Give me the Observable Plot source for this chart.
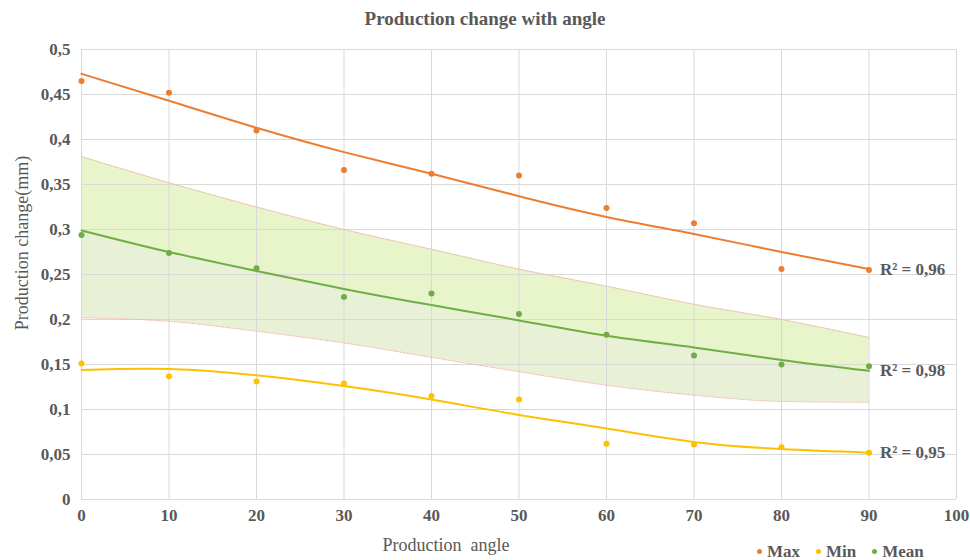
<!DOCTYPE html>
<html>
<head>
<meta charset="utf-8">
<script src="https://cdn.jsdelivr.net/npm/d3@7"></script>
<script src="https://cdn.jsdelivr.net/npm/@observablehq/plot@0.6"></script>
<style>
  body { margin: 0; background: #fff; }
  #wrap { position: relative; width: 970px; height: 560px; overflow: hidden;
          font-family: "Liberation Serif", "Times New Roman", serif; color: #595959; }
  #wrap * { font-family: "Liberation Serif", "Times New Roman", serif !important; }
  #chart { position: absolute; left: 0; top: 0; }
  #chart svg text { font-family: "Liberation Serif", "Times New Roman", serif !important; }
  #title { position: absolute; top: 8px; left: 0; width: 970px; text-align: center;
           font-size: 19px; font-weight: bold; }
  #ylabel { position: absolute; left: 22px; top: 243px; transform: translate(-50%, -50%) rotate(-90deg);
            white-space: pre; font-size: 18px; }
  #xlabel { position: absolute; left: 446px; top: 545px; transform: translate(-50%, -50%);
            white-space: pre; font-size: 18px; }
  #legend { position: absolute; left: 757px; top: 542px; font-size: 17px; font-weight: bold; white-space: nowrap; }
  #legend span.item { margin-right: 16px; }
  #legend span.dot { display: inline-block; width: 5px; height: 5px; border-radius: 50%; margin-right: 5px; vertical-align: middle; position: relative; top: -2px; }
</style>
</head>
<body>
<div id="wrap">
  <div id="chart"></div>
  <div id="title">Production change with angle</div>
  <div id="ylabel">Production change(mm)</div>
  <div id="xlabel">Production  angle</div>
  <div id="legend"></div>
</div>
<script>
// ---- data ----
const angles    = [0, 10, 20, 30, 40, 50, 60, 70, 80, 90];
const maxVals   = [0.465, 0.452, 0.410, 0.366, 0.362, 0.360, 0.324, 0.307, 0.256, 0.255];
const minVals   = [0.151, 0.137, 0.131, 0.129, 0.115, 0.111, 0.062, 0.061, 0.058, 0.052];
const meanVals  = [0.294, 0.274, 0.257, 0.225, 0.229, 0.206, 0.183, 0.160, 0.150, 0.148];
// trendlines as drawn in the reference
const maxTrend  = [0.473, 0.443, 0.413, 0.386, 0.362, 0.337, 0.314, 0.295, 0.275, 0.256];
const minTrend  = [0.144, 0.145, 0.138, 0.126, 0.111, 0.094, 0.079, 0.064, 0.056, 0.052];
const meanTrend = [0.299, 0.275, 0.254, 0.234, 0.216, 0.199, 0.182, 0.169, 0.155, 0.143];
// shaded band around the mean
const bandUpper = [0.381, 0.352, 0.325, 0.300, 0.278, 0.256, 0.237, 0.217, 0.200, 0.180];
const bandLower = [0.202, 0.198, 0.187, 0.174, 0.158, 0.142, 0.127, 0.116, 0.109, 0.108];
// labels
const seriesNames = ["Max", "Min", "Mean"];
const seriesColors = ["#ED7D31", "#FFC000", "#70AD47"];
const r2Labels = ["R² = 0,96", "R² = 0,95", "R² = 0,98"];
const xTicks = [0, 10, 20, 30, 40, 50, 60, 70, 80, 90, 100];
const yTicks = [0, 0.05, 0.1, 0.15, 0.2, 0.25, 0.3, 0.35, 0.4, 0.45, 0.5];
const yTickLabels = ["0", "0,05", "0,1", "0,15", "0,2", "0,25", "0,3", "0,35", "0,4", "0,45", "0,5"];

// ---- build tables ----
const rows = angles.map((a, i) => ({
  angle: a, max: maxVals[i], min: minVals[i], mean: meanVals[i],
  maxT: maxTrend[i], minT: minTrend[i], meanT: meanTrend[i],
  up: bandUpper[i], lo: bandLower[i]
}));
const valueSets = [maxVals, minVals, meanVals];
const trendSets = [maxTrend, minTrend, meanTrend];
const points = seriesNames.flatMap((s, k) => angles.map((a, i) => ({ series: s, angle: a, value: valueSets[k][i] })));
const trends = seriesNames.flatMap((s, k) => angles.map((a, i) => ({ series: s, angle: a, value: trendSets[k][i] })));
const r2 = seriesNames.map((s, k) => ({ series: s, angle: angles[angles.length - 1], value: trendSets[k][angles.length - 1], label: r2Labels[k] }));
const yLabelMap = new Map(yTicks.map((t, i) => [t, yTickLabels[i]]));
const color = { domain: seriesNames, range: seriesColors };
const serif = "Liberation Serif";

const chart = Plot.plot({
  width: 970,
  height: 560,
  marginTop: 49,
  marginBottom: 61,
  marginLeft: 81,
  marginRight: 14,
  style: { fontFamily: serif, fontSize: "17px", fontWeight: "bold", color: "#595959", background: "transparent" },
  x: { domain: [0, 100] },
  y: { domain: [0, 0.5] },
  color,
  marks: [
    Plot.areaY(rows, { x: "angle", y1: "meanT", y2: "up", fill: "#e8f4c9", curve: "monotone-x" }),
    Plot.areaY(rows, { x: "angle", y1: "lo", y2: "meanT", fill: "#e8f0d6", curve: "monotone-x" }),
    Plot.gridX(xTicks, { stroke: "#d9d9d9", strokeOpacity: 1 }),
    Plot.gridY(yTicks, { stroke: "#d9d9d9", strokeOpacity: 1 }),
    Plot.line(rows, { x: "angle", y: "up", stroke: "#f0b4ac", strokeWidth: 1, strokeDasharray: "1.5,1.5", curve: "monotone-x" }),
    Plot.line(rows, { x: "angle", y: "lo", stroke: "#f0b4ac", strokeWidth: 1, strokeDasharray: "1.5,1.5", curve: "monotone-x" }),
    Plot.line(trends, { x: "angle", y: "value", z: "series", stroke: "series", strokeWidth: 2, curve: "natural" }),
    Plot.dot(points, { x: "angle", y: "value", fill: "series", r: 3 }),
    Plot.text(r2, { x: "angle", y: "value", text: "label", textAnchor: "start", dx: 11, fill: "#595959", fontWeight: "bold", fontSize: 17, fontFamily: serif }),
    Plot.axisX(xTicks, { tickSize: 0, tickPadding: 9, label: null, fontFamily: serif, tickFormat: d => String(d) }),
    Plot.axisY(yTicks, { tickSize: 0, tickPadding: 11, label: null, fontFamily: serif, tickFormat: d => yLabelMap.get(d) })
  ]
});
document.getElementById("chart").appendChild(chart);

const legend = document.getElementById("legend");
seriesNames.forEach((s, k) => {
  const item = document.createElement("span");
  item.className = "item";
  const dot = document.createElement("span");
  dot.className = "dot";
  dot.style.background = seriesColors[k];
  item.appendChild(dot);
  item.appendChild(document.createTextNode(s));
  legend.appendChild(item);
});
</script>
</body>
</html>
